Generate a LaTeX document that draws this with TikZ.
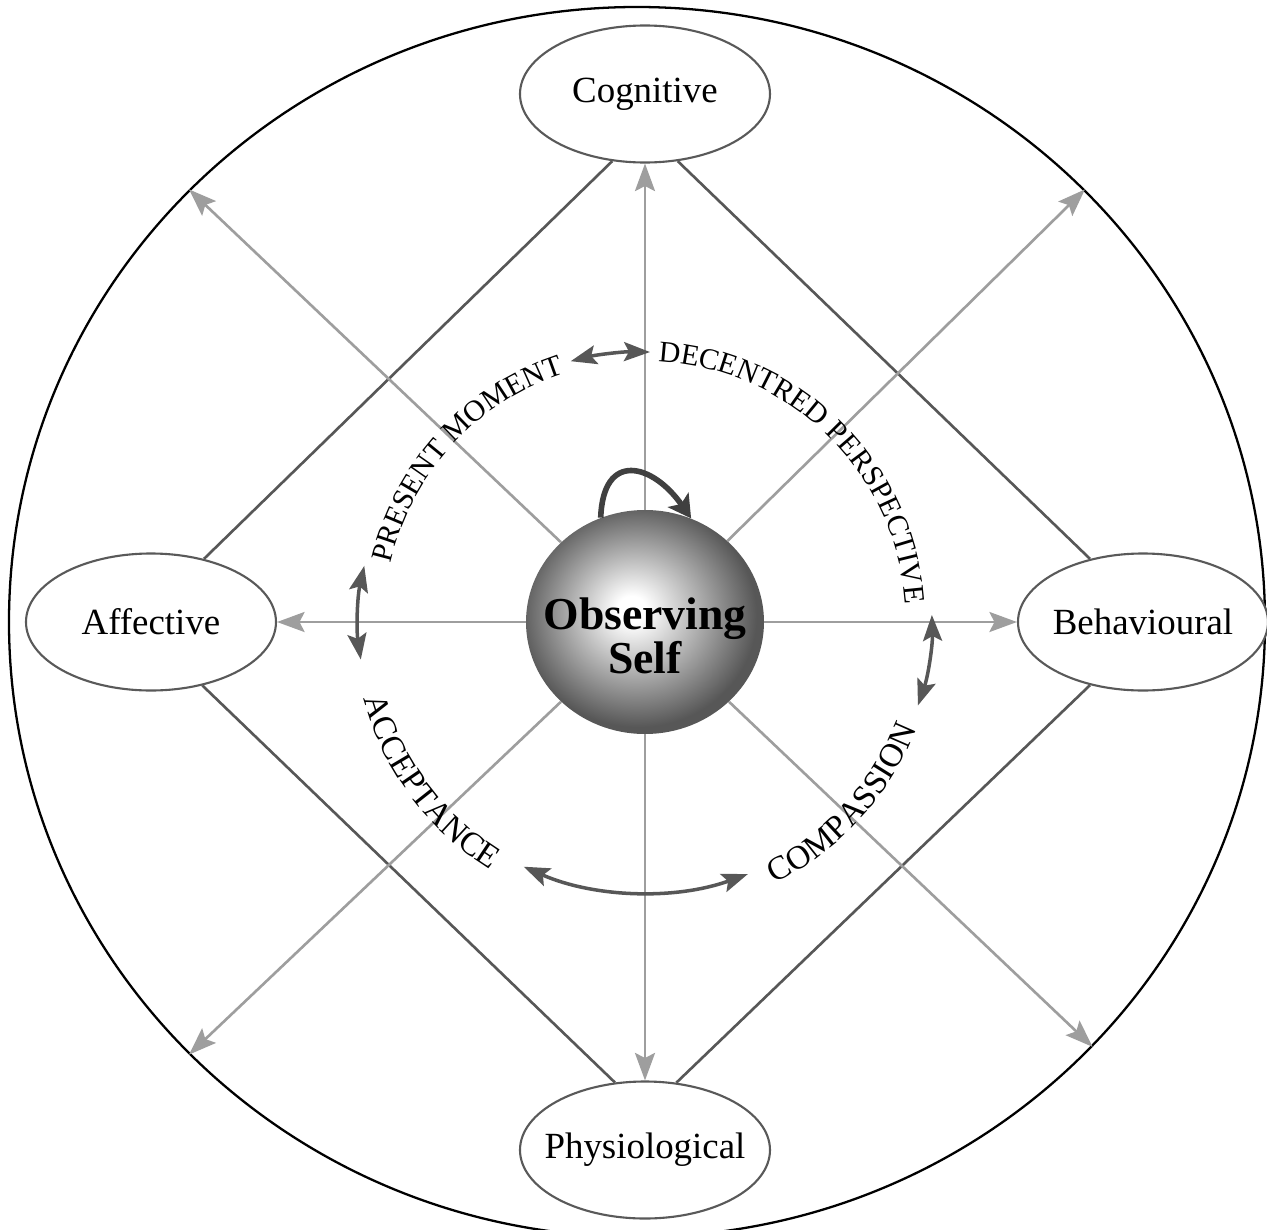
\documentclass[tikz,border=0pt]{standalone}
\usepackage{fontspec}
\setmainfont{Liberation Serif}
\usetikzlibrary{arrows.meta,shapes.geometric,decorations.text}

% grey orb for the observing self
\pgfdeclareradialshading{orbshade}{\pgfpoint{-3bp}{3bp}}{color(0bp)=(white); color(3bp)=(white); color(25bp)=(black!66); color(50bp)=(black!66)}

\newcommand{\upperfont}{\fontsize{17}{17}\selectfont}
\newcommand{\lowerfont}{\fontsize{19}{19}\selectfont}

\tikzset{
  rim/.style={ellipse, draw=black, line width=1.3pt, minimum width=25.12cm, minimum height=24.6cm, inner sep=0pt},
  facet/.style={ellipse, draw=black!65, line width=1.2pt, fill=white, minimum width=5cm, minimum height=2.74cm, inner xsep=-0.3cm, inner ysep=0pt, font=\fontsize{21}{24}\selectfont},
  link/.style={draw=black!66, line width=1.5pt},
  spoke/.style={draw=black!38, line width=1.5pt, -{Stealth[length=5.5mm, width=4mm, inset=1mm]}},
  swing/.style={draw=black!66, line width=2pt, {Stealth[length=5.2mm, width=3.8mm, inset=1mm]}-{Stealth[length=5.2mm, width=3.8mm, inset=1mm]}},
  selfloop/.style={draw=black!75, line width=3.2pt, -{Stealth[length=4.5mm, width=5mm, inset=1mm]}},
  orb/.style={ellipse, shade, shading=orbshade, minimum width=4.76cm, minimum height=4.48cm, inner sep=0pt},
  orblabel/.style={align=center, font=\fontsize{26}{24}\selectfont\bfseries},
  uppertext/.style={decorate, decoration={text along path, text align=center, text={|\upperfont|#1}}},
  lowertext/.style={decorate, decoration={text along path, text align=center, text={|\lowerfont|#1}}}
}

\begin{document}
\begin{tikzpicture}
  \useasboundingbox (-12.9,-12.14) rectangle (12.44,12.44);
  \def\rx{5.74}
  \def\ry{5.4}

  % outer ring
  \node[rim] (rim) at (-0.16,0) {};

  % the four facets
  \node[facet] (cog) at (0,10.56) {Cognitive};
  \node[facet] (aff) at (-9.88,0) {Affective};
  \node[facet] (beh) at (9.96,0) {Behavioural};
  \node[facet] (phys) at (0,-10.56) {Physiological};

  % diamond joining the facets
  \draw[link] (cog.244) -- (aff.50);
  \draw[link] (cog.296) -- (beh.130);
  \draw[link] (aff.309) -- (phys.114);
  \draw[link] (beh.230) -- (phys.65);

  % observing self
  \node[orb] (orb) at (0,0) {};
  \node[orblabel] (selfname) at (0,-0.28) {Observing\\Self};

  % spokes out of the self
  \foreach \tgt in {cog,aff,beh,phys,rim.44,rim.136,rim.224,rim.317}
    \draw[spoke] (orb) -- (\tgt);

  % self-observation loop
  \draw[selfloop] (orb.113) to[out=88, in=125, looseness=1.9] (orb.66);

  % two-way arcs between the qualities
  \foreach \a/\b in {105/89, 168/188, 1.5/-18, -115/-69}
    \draw[swing] (\a:\rx cm and \ry cm) arc[start angle=\a, end angle=\b, x radius=\rx, y radius=\ry];

  % qualities written round the self
  \path[uppertext={PRESENT MOMENT}] (197.5:5.22) arc[start angle=197.5, end angle=77.5, radius=5.22];
  \path[uppertext={DECENTRED PERSPECTIVE}] (105.5:5.22) arc[start angle=105.5, end angle=-14.5, radius=5.22];
  \path[lowertext={ACCEPTANCE}] (156.7:5.84) arc[start angle=156.7, end angle=276.7, radius=5.84];
  \path[lowertext={COMPASSION}] (257.5:5.84) arc[start angle=257.5, end angle=377.5, radius=5.84];
\end{tikzpicture}
\end{document}
